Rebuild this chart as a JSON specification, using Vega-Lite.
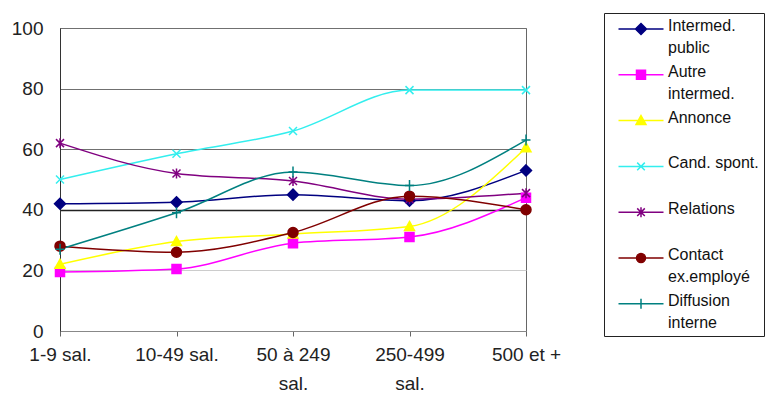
{
  "$schema": "https://vega.github.io/schema/vega-lite/v6.json",
  "width": 466,
  "height": 303,
  "autosize": {"type": "none"},
  "padding": {"left": 60, "top": 28, "right": 242, "bottom": 68},
  "background": "white",
  "config": {
    "font": "Liberation Sans",
    "view": {"stroke": "#666666", "strokeWidth": 1}
  },
  "data": {
    "values": [
      {"taille": "1-9 sal.", "serie": "Intermed. public", "pct": 42},
      {"taille": "10-49 sal.", "serie": "Intermed. public", "pct": 42.5},
      {"taille": "50 à 249 sal.", "serie": "Intermed. public", "pct": 45},
      {"taille": "250-499 sal.", "serie": "Intermed. public", "pct": 43},
      {"taille": "500 et +", "serie": "Intermed. public", "pct": 53},
      {"taille": "1-9 sal.", "serie": "Autre intermed.", "pct": 19.5},
      {"taille": "10-49 sal.", "serie": "Autre intermed.", "pct": 20.5},
      {"taille": "50 à 249 sal.", "serie": "Autre intermed.", "pct": 29},
      {"taille": "250-499 sal.", "serie": "Autre intermed.", "pct": 31},
      {"taille": "500 et +", "serie": "Autre intermed.", "pct": 44},
      {"taille": "1-9 sal.", "serie": "Annonce", "pct": 22},
      {"taille": "10-49 sal.", "serie": "Annonce", "pct": 29.5},
      {"taille": "50 à 249 sal.", "serie": "Annonce", "pct": 32},
      {"taille": "250-499 sal.", "serie": "Annonce", "pct": 34.5},
      {"taille": "500 et +", "serie": "Annonce", "pct": 60.5},
      {"taille": "1-9 sal.", "serie": "Cand. spont.", "pct": 50},
      {"taille": "10-49 sal.", "serie": "Cand. spont.", "pct": 58.5},
      {"taille": "50 à 249 sal.", "serie": "Cand. spont.", "pct": 66},
      {"taille": "250-499 sal.", "serie": "Cand. spont.", "pct": 79.5},
      {"taille": "500 et +", "serie": "Cand. spont.", "pct": 79.5},
      {"taille": "1-9 sal.", "serie": "Relations", "pct": 62},
      {"taille": "10-49 sal.", "serie": "Relations", "pct": 52},
      {"taille": "50 à 249 sal.", "serie": "Relations", "pct": 49.5},
      {"taille": "250-499 sal.", "serie": "Relations", "pct": 43.5},
      {"taille": "500 et +", "serie": "Relations", "pct": 45.5},
      {"taille": "1-9 sal.", "serie": "Contact ex.employé", "pct": 28},
      {"taille": "10-49 sal.", "serie": "Contact ex.employé", "pct": 26},
      {"taille": "50 à 249 sal.", "serie": "Contact ex.employé", "pct": 32.5},
      {"taille": "250-499 sal.", "serie": "Contact ex.employé", "pct": 44.5},
      {"taille": "500 et +", "serie": "Contact ex.employé", "pct": 40},
      {"taille": "1-9 sal.", "serie": "Diffusion interne", "pct": 27},
      {"taille": "10-49 sal.", "serie": "Diffusion interne", "pct": 39},
      {"taille": "50 à 249 sal.", "serie": "Diffusion interne", "pct": 52.5},
      {"taille": "250-499 sal.", "serie": "Diffusion interne", "pct": 48},
      {"taille": "500 et +", "serie": "Diffusion interne", "pct": 63}
    ]
  },
  "encoding": {
    "x": {
      "field": "taille",
      "type": "ordinal",
      "sort": ["1-9 sal.", "10-49 sal.", "50 à 249 sal.", "250-499 sal.", "500 et +"],
      "scale": {"type": "point", "padding": 0},
      "axis": {
        "title": null,
        "labelAngle": 0,
        "labelFontSize": 19,
        "labelColor": "#222222",
        "labelPadding": 9,
        "labelLineHeight": 29,
        "labelBaseline": "top",
        "labelExpr": "datum.value == '50 à 249 sal.' ? ['50 à 249', 'sal.'] : datum.value == '250-499 sal.' ? ['250-499', 'sal.'] : datum.value",
        "domainColor": "#888888",
        "tickColor": "#666666",
        "tickSize": 5,
        "grid": false
      }
    },
    "y": {
      "field": "pct",
      "type": "quantitative",
      "scale": {"domain": [0, 100]},
      "axis": {
        "title": null,
        "values": [0, 20, 40, 60, 80, 100],
        "labelFontSize": 19,
        "labelColor": "#222222",
        "labelPadding": 17,
        "ticks": false,
        "tickSize": 0,
        "domainColor": "#333333",
        "grid": true,
        "gridColor": {
          "condition": [
            {"test": "datum.value == 40", "value": "#222222"},
            {"test": "datum.value == 20", "value": "#cccccc"}
          ],
          "value": "#707070"
        },
        "gridWidth": {"condition": {"test": "datum.value == 40", "value": 1.6}, "value": 1}
      }
    },
    "color": {
      "field": "serie",
      "type": "nominal",
      "scale": {
        "domain": ["Intermed. public", "Autre intermed.", "Annonce", "Cand. spont.", "Relations", "Contact ex.employé", "Diffusion interne"],
        "range": ["#000080", "#ff00ff", "#ffff00", "#33eeee", "#800080", "#800000", "#008080"]
      },
      "legend": {
        "title": null,
        "orient": "none",
        "legendX": 544,
        "legendY": -15,
        "direction": "vertical",
        "fillColor": "white",
        "strokeColor": "#222222",
        "padding": 5,
        "symbolOffset": 21,
        "symbolSize": 400,
        "symbolStrokeWidth": 1.5,
        "labelOffset": 16,
        "labelFontSize": 16,
        "labelColor": "#111111",
        "labelBaseline": "top",
        "labelLimit": 200,
        "rowPadding": 7.8,
        "labelExpr": "datum.label == 'Intermed. public' ? ['Intermed.', 'public'] : datum.label == 'Autre intermed.' ? ['Autre', 'intermed.'] : datum.label == 'Contact ex.employé' ? ['Contact', 'ex.employé'] : datum.label == 'Diffusion interne' ? ['Diffusion', 'interne'] : [datum.label, '']",
        "encode": {
          "symbols": {
            "update": {
              "fill": {"scale": "fill", "field": "value"},
              "stroke": {"scale": "color", "field": "value"},
              "strokeWidth": {"value": 1.5},
              "opacity": {"value": 1}
            }
          },
          "labels": {"update": {"dy": {"value": -11}, "lineHeight": {"value": 22}}}
        }
      }
    }
  },
  "layer": [
    {
      "mark": {"type": "line", "interpolate": "monotone", "strokeWidth": 1.5}
    },
    {
      "mark": {"type": "point", "filled": false, "size": 100, "strokeWidth": 1.5, "opacity": 1},
      "encoding": {
        "fill": {
          "field": "serie",
          "type": "nominal",
          "scale": {
            "domain": ["Intermed. public", "Autre intermed.", "Annonce", "Cand. spont.", "Relations", "Contact ex.employé", "Diffusion interne"],
            "range": ["#000080", "#ff00ff", "#ffff00", "#33eeee", "#800080", "#800000", "#008080"]
          }
        },
        "shape": {
          "condition": [
            {"test": "datum.serie == 'Intermed. public'", "value": "M0,-1.1L1.1,0L0,1.1L-1.1,0Z"},
            {"test": "datum.serie == 'Autre intermed.'", "value": "M-0.9,-0.9H0.9V0.9H-0.9Z"},
            {"test": "datum.serie == 'Annonce'", "value": "M0,-1L1,0.8H-1Z"},
            {"test": "datum.serie == 'Cand. spont.'", "value": "M-0.8,-0.8L0.8,0.8M0.8,-0.8L-0.8,0.8"},
            {"test": "datum.serie == 'Relations'", "value": "M-0.8,-0.8L0.8,0.8M0.8,-0.8L-0.8,0.8M0,-1V1"},
            {"test": "datum.serie == 'Contact ex.employé'", "value": "circle"}
          ],
          "value": "M-0.9,0H0.9M0,-1.1V1.1"
        }
      }
    },
    {
      "transform": [{"filter": "false"}],
      "mark": {"type": "point", "filled": false, "size": 400, "strokeWidth": 1.5, "opacity": 1},
      "encoding": {
        "fill": {"field": "serie", "type": "nominal"},
        "shape": {
          "field": "serie",
          "type": "nominal",
          "scale": {
            "domain": ["Intermed. public", "Autre intermed.", "Annonce", "Cand. spont.", "Relations", "Contact ex.employé", "Diffusion interne"],
            "range": [
              "M-2.25,0H2.25M0,-0.55L0.55,0L0,0.55L-0.55,0Z",
              "M-2.25,0H2.25M-0.45,-0.45H0.45V0.45H-0.45Z",
              "M-2.25,0H2.25M0,-0.5L0.5,0.4H-0.5Z",
              "M-2.25,0H2.25M-0.38,-0.38L0.38,0.38M0.38,-0.38L-0.38,0.38",
              "M-2.25,0H2.25M-0.38,-0.38L0.38,0.38M0.38,-0.38L-0.38,0.38M0,-0.5V0.5",
              "M-2.25,0H2.25M0.45,0A0.45,0.45,0,1,1,-0.45,0A0.45,0.45,0,1,1,0.45,0Z",
              "M-2.25,0H2.25M0,-0.5V0.5"
            ]
          }
        }
      }
    }
  ]
}
